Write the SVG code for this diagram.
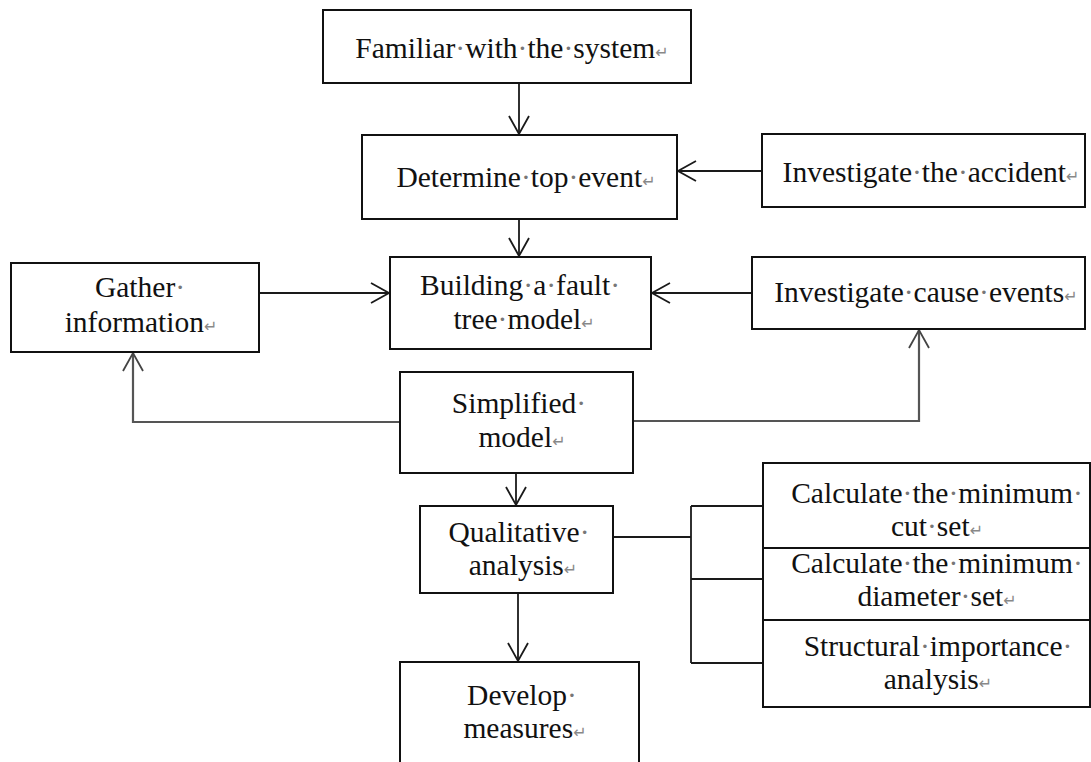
<svg xmlns="http://www.w3.org/2000/svg" width="1091" height="762" viewBox="0 0 1091 762">
  <style>
    .box { fill: #fff; stroke: #111; stroke-width: 2; }
    .t { font-family: "Liberation Serif", "Times New Roman", serif; font-size: 29.5px; fill: #111; text-anchor: middle; }
    .m { fill: #777; }
    .p { fill: #888; font-family: "DejaVu Sans", sans-serif; font-size: 16px; }
    .c { fill: none; stroke: #1a1a1a; stroke-width: 1.8; }
    .g { fill: none; stroke: #555; stroke-width: 2.2; }
  </style>
  <defs>
    <marker id="arr" markerUnits="userSpaceOnUse" markerWidth="22" markerHeight="24" refX="19" refY="11" orient="auto" overflow="visible">
      <path d="M1,1 L19,11 L1,21" fill="none" stroke="#1a1a1a" stroke-width="1.8"/>
    </marker>
    <marker id="arrg" markerUnits="userSpaceOnUse" markerWidth="22" markerHeight="24" refX="19" refY="11" orient="auto" overflow="visible">
      <path d="M1,1 L19,11 L1,21" fill="none" stroke="#444" stroke-width="1.8"/>
    </marker>
  </defs>
  <rect width="1091" height="762" fill="#fff"/>

  <g id="connectors">
    <line class="c" x1="519" y1="83" x2="519" y2="134" marker-end="url(#arr)"/>
    <line class="c" x1="762" y1="171" x2="678" y2="171" marker-end="url(#arr)"/>
    <line class="c" x1="519" y1="219" x2="519" y2="256" marker-end="url(#arr)"/>
    <line class="c" x1="259" y1="293" x2="389" y2="293" marker-end="url(#arr)"/>
    <line class="c" x1="752" y1="293" x2="652" y2="293" marker-end="url(#arr)"/>
    <polyline class="g" points="400,422 133,422 133,353" marker-end="url(#arrg)"/>
    <polyline class="g" points="633,421 919,421 919,330" marker-end="url(#arrg)"/>
    <line class="c" x1="516" y1="473" x2="516" y2="505" marker-end="url(#arr)"/>
    <line class="c" x1="518" y1="593" x2="518" y2="661" marker-end="url(#arr)"/>
    <line class="c" x1="613" y1="537" x2="691" y2="537"/>
    <line class="c" x1="691" y1="506" x2="691" y2="663"/>
    <line class="c" x1="691" y1="506" x2="763" y2="506"/>
    <line class="c" x1="691" y1="579" x2="763" y2="579"/>
    <line class="c" x1="691" y1="663" x2="763" y2="663"/>
  </g>

  <g id="familiar">
    <rect class="box" x="323" y="10" width="368" height="73"/>
    <text class="t" x="512" y="58">Familiar<tspan class="m">·</tspan>with<tspan class="m">·</tspan>the<tspan class="m">·</tspan>system<tspan class="p">↵</tspan></text>
  </g>

  <g id="determine">
    <rect class="box" x="362" y="135" width="315" height="84"/>
    <text class="t" x="526" y="187">Determine<tspan class="m">·</tspan>top<tspan class="m">·</tspan>event<tspan class="p">↵</tspan></text>
  </g>

  <g id="accident">
    <rect class="box" x="762" y="134" width="323" height="73"/>
    <text class="t" x="931" y="182">Investigate<tspan class="m">·</tspan>the<tspan class="m">·</tspan>accident<tspan class="p">↵</tspan></text>
  </g>

  <g id="gather">
    <rect class="box" x="11" y="263" width="248" height="89"/>
    <text class="t" x="140" y="297">Gather<tspan class="m">·</tspan></text>
    <text class="t" x="141" y="332">information<tspan class="p">↵</tspan></text>
  </g>

  <g id="building">
    <rect class="box" x="390" y="257" width="261" height="92"/>
    <text class="t" x="520" y="295">Building<tspan class="m">·</tspan>a<tspan class="m">·</tspan>fault<tspan class="m">·</tspan></text>
    <text class="t" x="524" y="329">tree<tspan class="m">·</tspan>model<tspan class="p">↵</tspan></text>
  </g>

  <g id="cause">
    <rect class="box" x="752" y="257" width="333" height="72"/>
    <text class="t" x="926" y="302">Investigate<tspan class="m">·</tspan>cause<tspan class="m">·</tspan>events<tspan class="p">↵</tspan></text>
  </g>

  <g id="simplified">
    <rect class="box" x="400" y="372" width="233" height="101"/>
    <text class="t" x="519" y="413">Simplified<tspan class="m">·</tspan></text>
    <text class="t" x="522" y="447">model<tspan class="p">↵</tspan></text>
  </g>

  <g id="qualitative">
    <rect class="box" x="420" y="506" width="193" height="87"/>
    <text class="t" x="519" y="542">Qualitative<tspan class="m">·</tspan></text>
    <text class="t" x="523" y="575">analysis<tspan class="p">↵</tspan></text>
  </g>

  <g id="develop">
    <rect class="box" x="400" y="662" width="239" height="110"/>
    <text class="t" x="522" y="705">Develop<tspan class="m">·</tspan></text>
    <text class="t" x="525" y="738">measures<tspan class="p">↵</tspan></text>
  </g>

  <g id="cutset">
    <rect class="box" x="763" y="463" width="327" height="85"/>
    <text class="t" x="937" y="503">Calculate<tspan class="m">·</tspan>the<tspan class="m">·</tspan>minimum<tspan class="m">·</tspan></text>
    <text class="t" x="937" y="536">cut<tspan class="m">·</tspan>set<tspan class="p">↵</tspan></text>
  </g>

  <g id="diameterset">
    <rect class="box" x="763" y="548" width="327" height="72"/>
    <text class="t" x="937" y="573">Calculate<tspan class="m">·</tspan>the<tspan class="m">·</tspan>minimum<tspan class="m">·</tspan></text>
    <text class="t" x="937" y="606">diameter<tspan class="m">·</tspan>set<tspan class="p">↵</tspan></text>
  </g>

  <g id="structural">
    <rect class="box" x="763" y="620" width="327" height="87"/>
    <text class="t" x="938" y="656">Structural<tspan class="m">·</tspan>importance<tspan class="m">·</tspan></text>
    <text class="t" x="938" y="689">analysis<tspan class="p">↵</tspan></text>
  </g>
</svg>
